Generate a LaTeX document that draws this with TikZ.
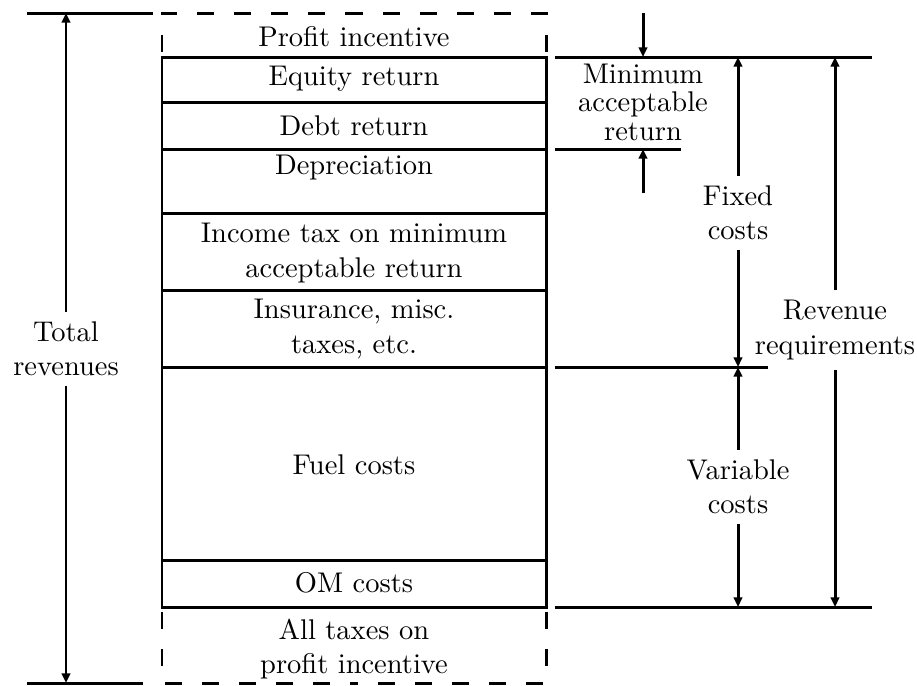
\documentclass[tikz,border=0pt]{standalone}
\usetikzlibrary{arrows.meta}
\begin{document}
\begin{tikzpicture}[x=0.351pt,y=-0.351pt,
  ln/.style={line width=1.05pt},
  arr/.style={ln,-{Triangle[length=3.4pt,width=3pt]}},
  dsh/.style={ln,dash pattern=on 6pt off 7pt,dash phase=11.2pt},
  lbl/.style={align=center,font=\normalsize}]
\useasboundingbox (0,0) rectangle (917,685);
% Total revenues
\draw[ln] (27,13) -- (153,13);
\draw[ln] (27,683) -- (143,683);
\coordinate (trT) at (66,13);
\coordinate (trB) at (66,683);
\node[lbl] (tr) at (66,349) {Total\\revenues};
\draw[arr] (tr.north) -- (trT);
\draw[arr] (tr.south) -- (trB);
% box
\draw[ln] (162,57) rectangle (546,607);
\foreach \yy in {102,149,213,290,367,560}
  \draw[ln] (162,\yy) -- (546,\yy);
\draw[dsh] (162,57) -- (162,13) -- (354,13);
\draw[dsh] (546,57) -- (546,13) -- (354,13);
\draw[dsh] (162,607) -- (162,683) -- (354,683);
\draw[dsh] (546,607) -- (546,683) -- (354,683);
\node[lbl] (pi) at (354,37) {Profit incentive};
\node[lbl] (eq) at (354,79) {Equity return};
\node[lbl] (db) at (354,126) {Debt return};
\node[lbl] (dp) at (354,168) {Depreciation};
\node[lbl] (it) at (354,253) {Income tax on minimum\\acceptable return};
\node[lbl] (ins) at (354,329) {Insurance, misc.\\taxes, etc.};
\node[lbl] (fu) at (354,465) {Fuel costs};
\node[lbl] (om) at (354,583) {OM costs};
\node[lbl] (at) at (354,649) {All taxes on\\profit incentive};
% right side lines
\draw[ln] (555,57) -- (872,57);
\draw[ln] (555,149) -- (681,149);
\draw[ln] (555,367) -- (768,367);
\draw[ln] (555,607) -- (872,607);
% minimum acceptable return
\node[lbl] (mar) at (643,102) {Minimum\\[-2pt]acceptable\\[-2pt]return};
\coordinate (marT) at (643,13);
\coordinate (marTa) at (643,57);
\coordinate (marB) at (643,193);
\coordinate (marBa) at (643,149);
\draw[arr] (marT) -- (marTa);
\draw[arr] (marB) -- (marBa);
% fixed costs
\coordinate (fcT) at (738,57);
\coordinate (fcB) at (738,367);
\node[lbl] (fc) at (738,213) {Fixed\\costs};
\draw[arr] (fc.north) -- (fcT);
\draw[arr] (fc.south) -- (fcB);
% variable costs
\coordinate (vcT) at (738,367);
\coordinate (vcB) at (738,607);
\node[lbl] (vc) at (738,487) {Variable\\costs};
\draw[arr] (vc.north) -- (vcT);
\draw[arr] (vc.south) -- (vcB);
% revenue requirements
\coordinate (rrT) at (835,57);
\coordinate (rrB) at (835,607);
\node[lbl] (rr) at (835,330) {Revenue\\requirements};
\draw[arr] (rr.north) -- (rrT);
\draw[arr] (rr.south) -- (rrB);
\end{tikzpicture}
\end{document}
